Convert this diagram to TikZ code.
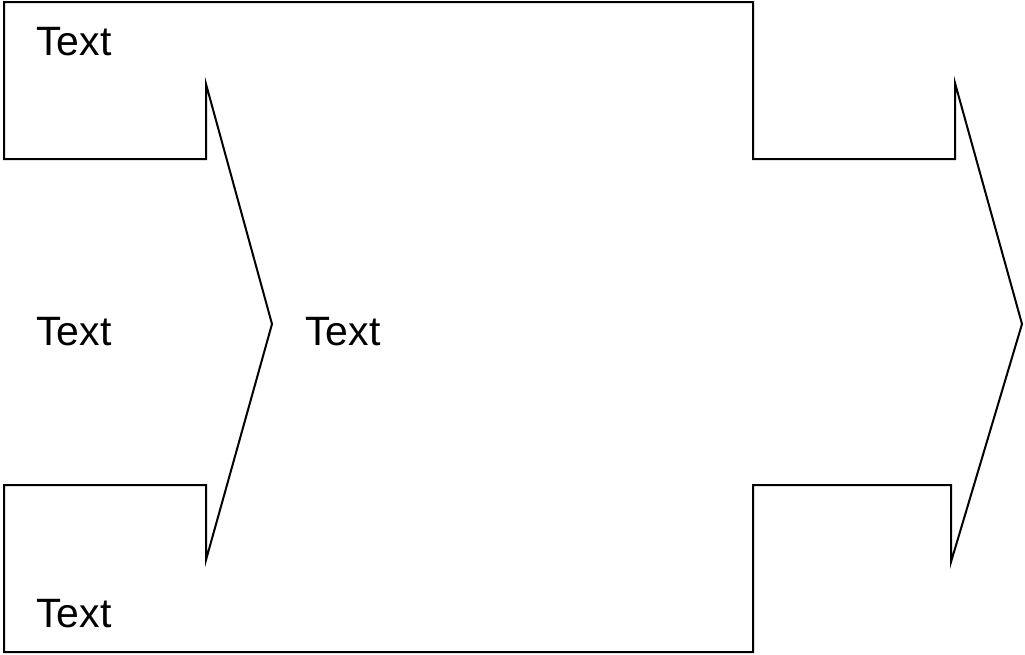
\documentclass[tikz,border=0pt]{standalone}
\usepackage{fontspec}
\setmainfont{Liberation Sans}
\begin{document}
\begin{tikzpicture}[x=1pt,y=-1pt,
  outline/.style={draw=black,line width=2pt,line join=miter},
  lbl/.style={anchor=base west,inner sep=0pt,font=\fontsize{41}{48}\selectfont}]
\useasboundingbox (0,0) rectangle (1025,654);
\draw[outline] (4,2) -- (753,2) -- (753,159) -- (955,159) -- (955,83) -- (1022,324)
  -- (951,562) -- (951,485) -- (753,485) -- (753,652) -- (4,652) -- (4,485)
  -- (206,485) -- (206,560) -- (272,324) -- (206,84) -- (206,159) -- (4,159) -- cycle;
\node[lbl] (t1) at (36,55) {Text};
\node[lbl] (t2) at (36,345) {Text};
\node[lbl] (t3) at (305,345) {Text};
\node[lbl] (t4) at (36,627) {Text};
\end{tikzpicture}
\end{document}
